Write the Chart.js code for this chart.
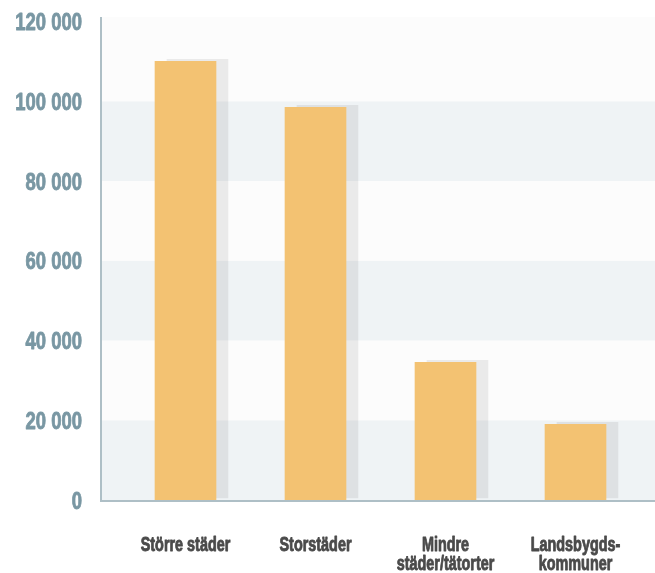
<!DOCTYPE html>
<html lang="sv">
<head>
<meta charset="utf-8">
<script src="https://cdn.jsdelivr.net/npm/chart.js@4.4.1/dist/chart.umd.min.js"></script>
<style>
    html, body { margin: 0; padding: 0; background: #ffffff; }
    .chart-wrap { width: 655px; height: 573px; position: relative; }
</style>
</head>
<body>
<div class="chart-wrap"><canvas id="areaChart"></canvas></div>
<script>
// Chart data
const categories = [
    'Större städer',
    'Storstäder',
    ['Mindre', 'städer/tätorter'],
    ['Landsbygds-', 'kommuner']
];
const values = [110000, 98500, 34500, 19000];
const yTicks = [0, 20000, 40000, 60000, 80000, 100000, 120000];

const fontFamily = '"Liberation Sans", Arial, sans-serif';
const axisGap = 19.5;   // distance from drawn axis line to first category band
const topExtra = 4.5;   // plot background reaches a bit above the top tick

// Striped background + axis lines
const backgroundPlugin = {
    id: 'backgroundBands',
    beforeDatasetsDraw(chart) {
        const { ctx, chartArea, scales } = chart;
        const y = scales.y;
        const left = chartArea.left - axisGap;
        const right = chart.width;
        ctx.save();
        for (let i = 0; i < yTicks.length - 1; i++) {
            const y0 = y.getPixelForValue(yTicks[i]);
            let y1 = y.getPixelForValue(yTicks[i + 1]);
            if (i === yTicks.length - 2) y1 -= topExtra;
            ctx.fillStyle = i % 2 === 0 ? '#eff3f5' : '#fcfcfc';
            ctx.fillRect(left, y1, right - left, y0 - y1);
        }
        ctx.restore();
    },
    afterDatasetsDraw(chart) {
        const { ctx, chartArea } = chart;
        const left = chartArea.left - axisGap;
        ctx.save();
        ctx.strokeStyle = '#aebfc6';
        ctx.lineWidth = 2;
        ctx.beginPath();
        ctx.moveTo(left, chartArea.top - topExtra);
        ctx.lineTo(left, chartArea.bottom + 1);
        ctx.lineTo(chart.width, chartArea.bottom + 1);
        ctx.stroke();
        ctx.restore();
    }
};

// Flat offset shadow behind bars
const shadowPlugin = {
    id: 'barShadow',
    beforeDatasetDraw(chart) {
        const ctx = chart.ctx;
        ctx.save();
        ctx.shadowColor = 'rgba(0, 0, 0, 0.07)';
        ctx.shadowOffsetX = 12;
        ctx.shadowOffsetY = -2;
        ctx.shadowBlur = 0;
    },
    afterDatasetDraw(chart) {
        chart.ctx.restore();
    }
};

// Condensed axis labels (no condensed font installed, so squeeze horizontally)
function drawCondensed(ctx, text, x, y, squeeze) {
    ctx.save();
    ctx.translate(x, y);
    ctx.scale(squeeze, 1);
    ctx.strokeText(text, 0, 0);
    ctx.fillText(text, 0, 0);
    ctx.restore();
}

const labelPlugin = {
    id: 'axisLabels',
    afterDraw(chart) {
        const { ctx, chartArea, scales } = chart;
        ctx.save();
        ctx.textBaseline = 'alphabetic';
        ctx.lineJoin = 'round';

        // y axis
        ctx.font = 'bold 24px ' + fontFamily;
        ctx.fillStyle = '#7997a3';
        ctx.strokeStyle = '#7997a3';
        ctx.lineWidth = 0.9;
        ctx.textAlign = 'right';
        const yRight = chartArea.left - 38.5;
        yTicks.forEach(v => {
            const py = scales.y.getPixelForValue(v);
            drawCondensed(ctx, formatNumber(v), yRight, py + 8.5, 0.77);
        });

        // x axis
        ctx.font = 'bold 20px ' + fontFamily;
        ctx.fillStyle = '#4a4a4a';
        ctx.strokeStyle = '#4a4a4a';
        ctx.lineWidth = 0.9;
        ctx.textAlign = 'center';
        categories.forEach((label, i) => {
            const px = scales.x.getPixelForValue(i);
            const lines = Array.isArray(label) ? label : [label];
            lines.forEach((line, j) => {
                drawCondensed(ctx, line, px, chartArea.bottom + 51 + j * 18.5, 0.72);
            });
        });
        ctx.restore();
    }
};

function formatNumber(value) {
    return String(value).replace(/\B(?=(\d{3})+(?!\d))/g, ' ');
}

const ctx = document.getElementById('areaChart');
new Chart(ctx, {
    type: 'bar',
    data: {
        labels: categories,
        datasets: [{
            data: values,
            backgroundColor: '#f3c272',
            borderWidth: 0,
            barThickness: 61
        }]
    },
    options: {
        responsive: true,
        maintainAspectRatio: false,
        animation: false,
        layout: {
            padding: { top: 21.5, right: 14.5, bottom: 0, left: 0 }
        },
        plugins: {
            legend: { display: false },
            tooltip: { enabled: false }
        },
        scales: {
            x: {
                grid: { display: false, drawTicks: false },
                border: { display: false },
                ticks: { display: false },
                afterFit: function(scale) {
                    scale.height = 73;
                }
            },
            y: {
                min: 0,
                max: 120000,
                grid: { display: false, drawTicks: false },
                border: { display: false },
                ticks: { display: false, stepSize: 20000 },
                afterFit: function(scale) {
                    scale.width = 120.5;
                }
            }
        }
    },
    plugins: [backgroundPlugin, shadowPlugin, labelPlugin]
});
</script>
</body>
</html>
